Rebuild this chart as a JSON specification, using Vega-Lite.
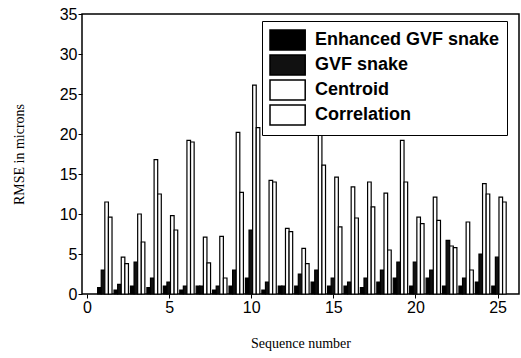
{
  "$schema": "https://vega.github.io/schema/vega-lite/v6.json",
  "autosize": "none",
  "width": 437,
  "height": 280,
  "padding": {"left": 82, "top": 14, "right": 2, "bottom": 64},
  "background": "white",
  "config": {
    "view": {"stroke": "black", "strokeWidth": 1.5},
    "axis": {"domain": false, "grid": false, "labelFont": "Liberation Sans", "labelFontSize": 16, "labelColor": "black", "tickColor": "black", "titleFont": "Liberation Serif", "titleFontSize": 14, "titleFontWeight": "normal", "titleColor": "black"}
  },
  "data": {"values": [
    {"seq":1,"series":"Enhanced GVF snake","rmse":0.8},{"seq":1,"series":"GVF snake","rmse":3},{"seq":1,"series":"Centroid","rmse":11.5},{"seq":1,"series":"Correlation","rmse":9.6},
    {"seq":2,"series":"Enhanced GVF snake","rmse":0.5},{"seq":2,"series":"GVF snake","rmse":1.2},{"seq":2,"series":"Centroid","rmse":4.6},{"seq":2,"series":"Correlation","rmse":3.8},
    {"seq":3,"series":"Enhanced GVF snake","rmse":1},{"seq":3,"series":"GVF snake","rmse":4},{"seq":3,"series":"Centroid","rmse":10},{"seq":3,"series":"Correlation","rmse":6.5},
    {"seq":4,"series":"Enhanced GVF snake","rmse":0.8},{"seq":4,"series":"GVF snake","rmse":2},{"seq":4,"series":"Centroid","rmse":16.8},{"seq":4,"series":"Correlation","rmse":12.5},
    {"seq":5,"series":"Enhanced GVF snake","rmse":1},{"seq":5,"series":"GVF snake","rmse":1.5},{"seq":5,"series":"Centroid","rmse":9.8},{"seq":5,"series":"Correlation","rmse":8},
    {"seq":6,"series":"Enhanced GVF snake","rmse":0.5},{"seq":6,"series":"GVF snake","rmse":1},{"seq":6,"series":"Centroid","rmse":19.2},{"seq":6,"series":"Correlation","rmse":19},
    {"seq":7,"series":"Enhanced GVF snake","rmse":1},{"seq":7,"series":"GVF snake","rmse":1},{"seq":7,"series":"Centroid","rmse":7.1},{"seq":7,"series":"Correlation","rmse":3.9},
    {"seq":8,"series":"Enhanced GVF snake","rmse":0.5},{"seq":8,"series":"GVF snake","rmse":1},{"seq":8,"series":"Centroid","rmse":7.2},{"seq":8,"series":"Correlation","rmse":2},
    {"seq":9,"series":"Enhanced GVF snake","rmse":1},{"seq":9,"series":"GVF snake","rmse":3},{"seq":9,"series":"Centroid","rmse":20.2},{"seq":9,"series":"Correlation","rmse":12.7},
    {"seq":10,"series":"Enhanced GVF snake","rmse":2},{"seq":10,"series":"GVF snake","rmse":8},{"seq":10,"series":"Centroid","rmse":26.1},{"seq":10,"series":"Correlation","rmse":20.8},
    {"seq":11,"series":"Enhanced GVF snake","rmse":0.5},{"seq":11,"series":"GVF snake","rmse":1.5},{"seq":11,"series":"Centroid","rmse":14.2},{"seq":11,"series":"Correlation","rmse":14},
    {"seq":12,"series":"Enhanced GVF snake","rmse":1},{"seq":12,"series":"GVF snake","rmse":1},{"seq":12,"series":"Centroid","rmse":8.2},{"seq":12,"series":"Correlation","rmse":7.8},
    {"seq":13,"series":"Enhanced GVF snake","rmse":1},{"seq":13,"series":"GVF snake","rmse":2.5},{"seq":13,"series":"Centroid","rmse":5.7},{"seq":13,"series":"Correlation","rmse":3.8},
    {"seq":14,"series":"Enhanced GVF snake","rmse":1.5},{"seq":14,"series":"GVF snake","rmse":3},{"seq":14,"series":"Centroid","rmse":21.3},{"seq":14,"series":"Correlation","rmse":16.1},
    {"seq":15,"series":"Enhanced GVF snake","rmse":1},{"seq":15,"series":"GVF snake","rmse":2},{"seq":15,"series":"Centroid","rmse":14.6},{"seq":15,"series":"Correlation","rmse":8.4},
    {"seq":16,"series":"Enhanced GVF snake","rmse":1},{"seq":16,"series":"GVF snake","rmse":1.5},{"seq":16,"series":"Centroid","rmse":13.4},{"seq":16,"series":"Correlation","rmse":9.5},
    {"seq":17,"series":"Enhanced GVF snake","rmse":0.8},{"seq":17,"series":"GVF snake","rmse":2},{"seq":17,"series":"Centroid","rmse":14},{"seq":17,"series":"Correlation","rmse":10.9},
    {"seq":18,"series":"Enhanced GVF snake","rmse":1.5},{"seq":18,"series":"GVF snake","rmse":3},{"seq":18,"series":"Centroid","rmse":12.6},{"seq":18,"series":"Correlation","rmse":5.5},
    {"seq":19,"series":"Enhanced GVF snake","rmse":2},{"seq":19,"series":"GVF snake","rmse":4},{"seq":19,"series":"Centroid","rmse":19.2},{"seq":19,"series":"Correlation","rmse":14},
    {"seq":20,"series":"Enhanced GVF snake","rmse":1},{"seq":20,"series":"GVF snake","rmse":4},{"seq":20,"series":"Centroid","rmse":9.6},{"seq":20,"series":"Correlation","rmse":8.8},
    {"seq":21,"series":"Enhanced GVF snake","rmse":2},{"seq":21,"series":"GVF snake","rmse":3},{"seq":21,"series":"Centroid","rmse":12.1},{"seq":21,"series":"Correlation","rmse":9.2},
    {"seq":22,"series":"Enhanced GVF snake","rmse":1},{"seq":22,"series":"GVF snake","rmse":6.7},{"seq":22,"series":"Centroid","rmse":6},{"seq":22,"series":"Correlation","rmse":5.8},
    {"seq":23,"series":"Enhanced GVF snake","rmse":1},{"seq":23,"series":"GVF snake","rmse":2},{"seq":23,"series":"Centroid","rmse":9},{"seq":23,"series":"Correlation","rmse":3},
    {"seq":24,"series":"Enhanced GVF snake","rmse":1.5},{"seq":24,"series":"GVF snake","rmse":5},{"seq":24,"series":"Centroid","rmse":13.8},{"seq":24,"series":"Correlation","rmse":12.5},
    {"seq":25,"series":"Enhanced GVF snake","rmse":1},{"seq":25,"series":"GVF snake","rmse":4.6},{"seq":25,"series":"Centroid","rmse":12.1},{"seq":25,"series":"Correlation","rmse":11.5}
  ]},
  "encoding": {
    "x": {"field": "seq", "type": "quantitative", "scale": {"domain": [0, 26], "nice": false, "zero": false},
      "axis": {"values": [0,5,10,15,20,25], "title": "Sequence number", "tickSize": 4, "labelPadding": 1, "titlePadding": 21}},
    "y": {"field": "rmse", "type": "quantitative", "stack": null, "scale": {"domain": [0, 35], "nice": false},
      "axis": {"values": [0,5,10,15,20,25,30,35], "title": "RMSE in microns", "tickSize": 4, "labelPadding": 1, "titlePadding": 33}},
    "fill": {"field": "series", "type": "nominal", "sort": ["Enhanced GVF snake","GVF snake","Centroid","Correlation"],
      "scale": {"domain": ["Enhanced GVF snake","GVF snake","Centroid","Correlation"], "range": ["#000000","#111111","#ffffff","#ffffff"]},
      "legend": {"title": null, "orient": "none", "legendX": 180, "legendY": 7, "symbolType": "M-1,-0.9H2.2V0.9H-1Z", "symbolSize": 484, "symbolStrokeColor": "black", "symbolStrokeWidth": 1.5, "labelFont": "Liberation Sans", "labelFontSize": 18, "labelFontWeight": "bold", "labelColor": "black", "labelOffset": 22, "rowPadding": -3, "padding": 7, "strokeColor": "black", "fillColor": "white", "labelLimit": 300}}
  },
  "layer": [
    {"transform": [{"filter": "datum.series === 'Enhanced GVF snake'"}], "mark": {"type": "bar", "width": 3.6, "xOffset": -4, "stroke": "black", "strokeWidth": 1.2}},
    {"transform": [{"filter": "datum.series === 'GVF snake'"}], "mark": {"type": "bar", "width": 3.6, "xOffset": -0.4, "stroke": "black", "strokeWidth": 1.2}},
    {"transform": [{"filter": "datum.series === 'Centroid'"}], "mark": {"type": "bar", "width": 3.6, "xOffset": 3.2, "stroke": "black", "strokeWidth": 1.2}},
    {"transform": [{"filter": "datum.series === 'Correlation'"}], "mark": {"type": "bar", "width": 3.6, "xOffset": 6.8, "stroke": "black", "strokeWidth": 1.2}}
  ]
}
